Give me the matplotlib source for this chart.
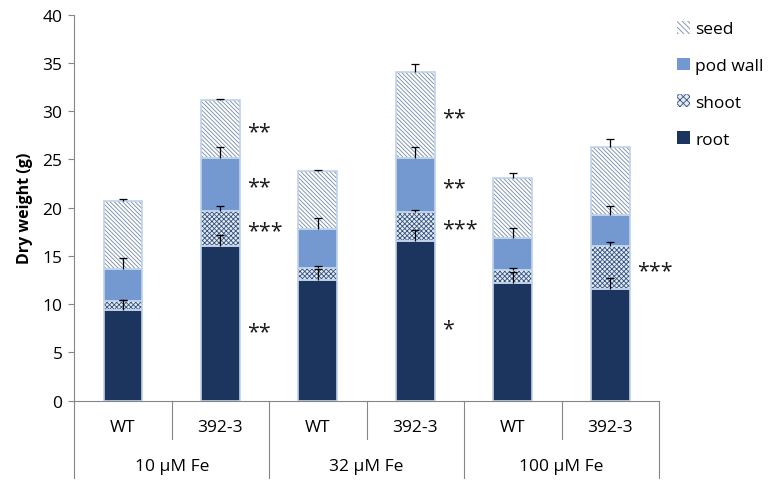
import numpy as np
import matplotlib

matplotlib.use("Agg")
import matplotlib.pyplot as plt
import matplotlib.transforms as mtransforms
from matplotlib.patches import Patch

plt.rcParams["font.family"] = ["Open Sans", "DejaVu Sans"]
plt.rcParams["hatch.linewidth"] = 0.6

# data (segment heights)
genotypes = ["WT", "392-3", "WT", "392-3", "WT", "392-3"]
groups = ["10 \u00b5M Fe", "32 \u00b5M Fe", "100 \u00b5M Fe"]
root = [9.4, 16.0, 12.5, 16.6, 12.2, 11.6]
shoot = [0.9, 3.7, 1.3, 3.0, 1.3, 4.4]
pod_wall = [3.4, 5.5, 4.0, 5.6, 3.4, 3.2]
seed = [7.0, 5.95, 6.0, 8.9, 6.2, 7.05]
root_err = [1.0, 1.2, 1.1, 1.1, 1.1, 1.1]
shoot_err = [0.1, 0.45, 0.15, 0.15, 0.3, 0.45]
pod_err = [1.1, 1.1, 1.1, 1.1, 1.0, 1.0]
seed_err = [0.2, 0.1, 0.15, 0.8, 0.45, 0.9]
# significance marks: (bar index, layer, text)
stars = [
    (1, "seed", "**"), (1, "pod wall", "**"), (1, "shoot", "***"), (1, "root", "**"),
    (3, "seed", "**"), (3, "pod wall", "**"), (3, "shoot", "***"), (3, "root", "*"),
    (5, "shoot", "***"),
]

ROOT_C = "#1c355e"
POD_C = "#7399d0"
SHOOT_BG = "#e4ebf5"
SHOOT_H = "#34527f"
SEED_BG = "#ffffff"
SEED_H = "#7388a8"
BORDER = "#c0d3ea"
AXIS_C = "#868686"

fig = plt.figure(figsize=(7.72, 4.89), dpi=100)
ax = fig.add_axes([0.0962, 0.1785, 0.7574, 0.7894])

x = np.arange(len(genotypes))
w = 0.40

layers = [
    ("root", root, root_err, ROOT_C, None, ROOT_C),
    ("shoot", shoot, shoot_err, SHOOT_BG, "xxxxxxx", SHOOT_H),
    ("pod wall", pod_wall, pod_err, POD_C, None, POD_C),
    ("seed", seed, seed_err, SEED_BG, "\\" * 8, SEED_H),
]

bottom = np.zeros(len(x))
tops = {}
mids = {}
for name, vals, errs, fc, hatch, hc in layers:
    vals = np.array(vals)
    ax.bar(x, vals, w, bottom=bottom, color=fc, edgecolor=hc, hatch=hatch,
           linewidth=0, zorder=2)
    ax.bar(x, vals, w, bottom=bottom, fill=False, edgecolor=BORDER,
           linewidth=1.2, zorder=3)
    mids[name] = bottom + vals / 2
    bottom = bottom + vals
    tops[name] = (bottom.copy(), np.array(errs))

# plus-only error bars, hide the lower caps
for name, (top, errs) in tops.items():
    eb = ax.errorbar(x, top, yerr=[np.zeros(len(x)), errs], fmt="none",
                     ecolor="black", elinewidth=0.9, capsize=3, capthick=0.9,
                     zorder=4)
    eb[1][0].set_visible(False)

for i, layer, txt in stars:
    off = 1.4 if layer == "root" else 0.85
    ax.text(x[i] + w / 2 + 0.07, mids[layer][i] - off, txt, fontsize=15.5,
            ha="left", va="baseline", color="#1a1a1a")

ax.set_xlim(-0.5, len(x) - 0.5)
ax.set_ylim(0, 40)
ax.set_yticks(np.arange(0, 41, 5))
ax.tick_params(axis="y", labelsize=12.5, direction="out", length=4.5,
               color=AXIS_C, width=0.8, pad=4)
ax.set_xticks([])
ax.set_ylabel("Dry weight (g)", fontsize=11.5, fontweight="bold", labelpad=7)
for s in ("top", "right"):
    ax.spines[s].set_visible(False)
for s in ("left", "bottom"):
    ax.spines[s].set_color(AXIS_C)
    ax.spines[s].set_linewidth(0.8)

# two-level category axis
trans = mtransforms.blended_transform_factory(ax.transData, ax.transAxes)
for b in np.arange(0.5, len(x) - 0.5, 2):
    ax.plot([b, b], [0, -0.1], color=AXIS_C, lw=0.8, transform=trans, clip_on=False)
for b in np.arange(-0.5, len(x), 2):
    ax.plot([b, b], [0, -0.2], color=AXIS_C, lw=0.8, transform=trans, clip_on=False)
for i, g in enumerate(genotypes):
    ax.text(i, -0.069, g, fontsize=12.5, ha="center", va="center", transform=trans)
for j, g in enumerate(groups):
    ax.text(2 * j + 0.5, -0.17, g, fontsize=12.5, ha="center", va="center",
            transform=trans)

handles = [
    Patch(facecolor=SEED_BG, edgecolor=SEED_H, hatch="\\" * 6, linewidth=0),
    Patch(facecolor=POD_C, edgecolor=POD_C, linewidth=0),
    Patch(facecolor=SHOOT_BG, edgecolor=SHOOT_H, hatch="xxxxx", linewidth=0),
    Patch(facecolor=ROOT_C, edgecolor=ROOT_C, linewidth=0),
]
fig.legend(handles, ["seed", "pod wall", "shoot", "root"], loc="upper left",
           bbox_to_anchor=(0.877, 0.955), frameon=False, fontsize=12.5,
           handlelength=0.75, handleheight=0.75, handletextpad=0.3,
           labelspacing=1.17, borderpad=0, borderaxespad=0)

fig.savefig("out.png", dpi=100)
